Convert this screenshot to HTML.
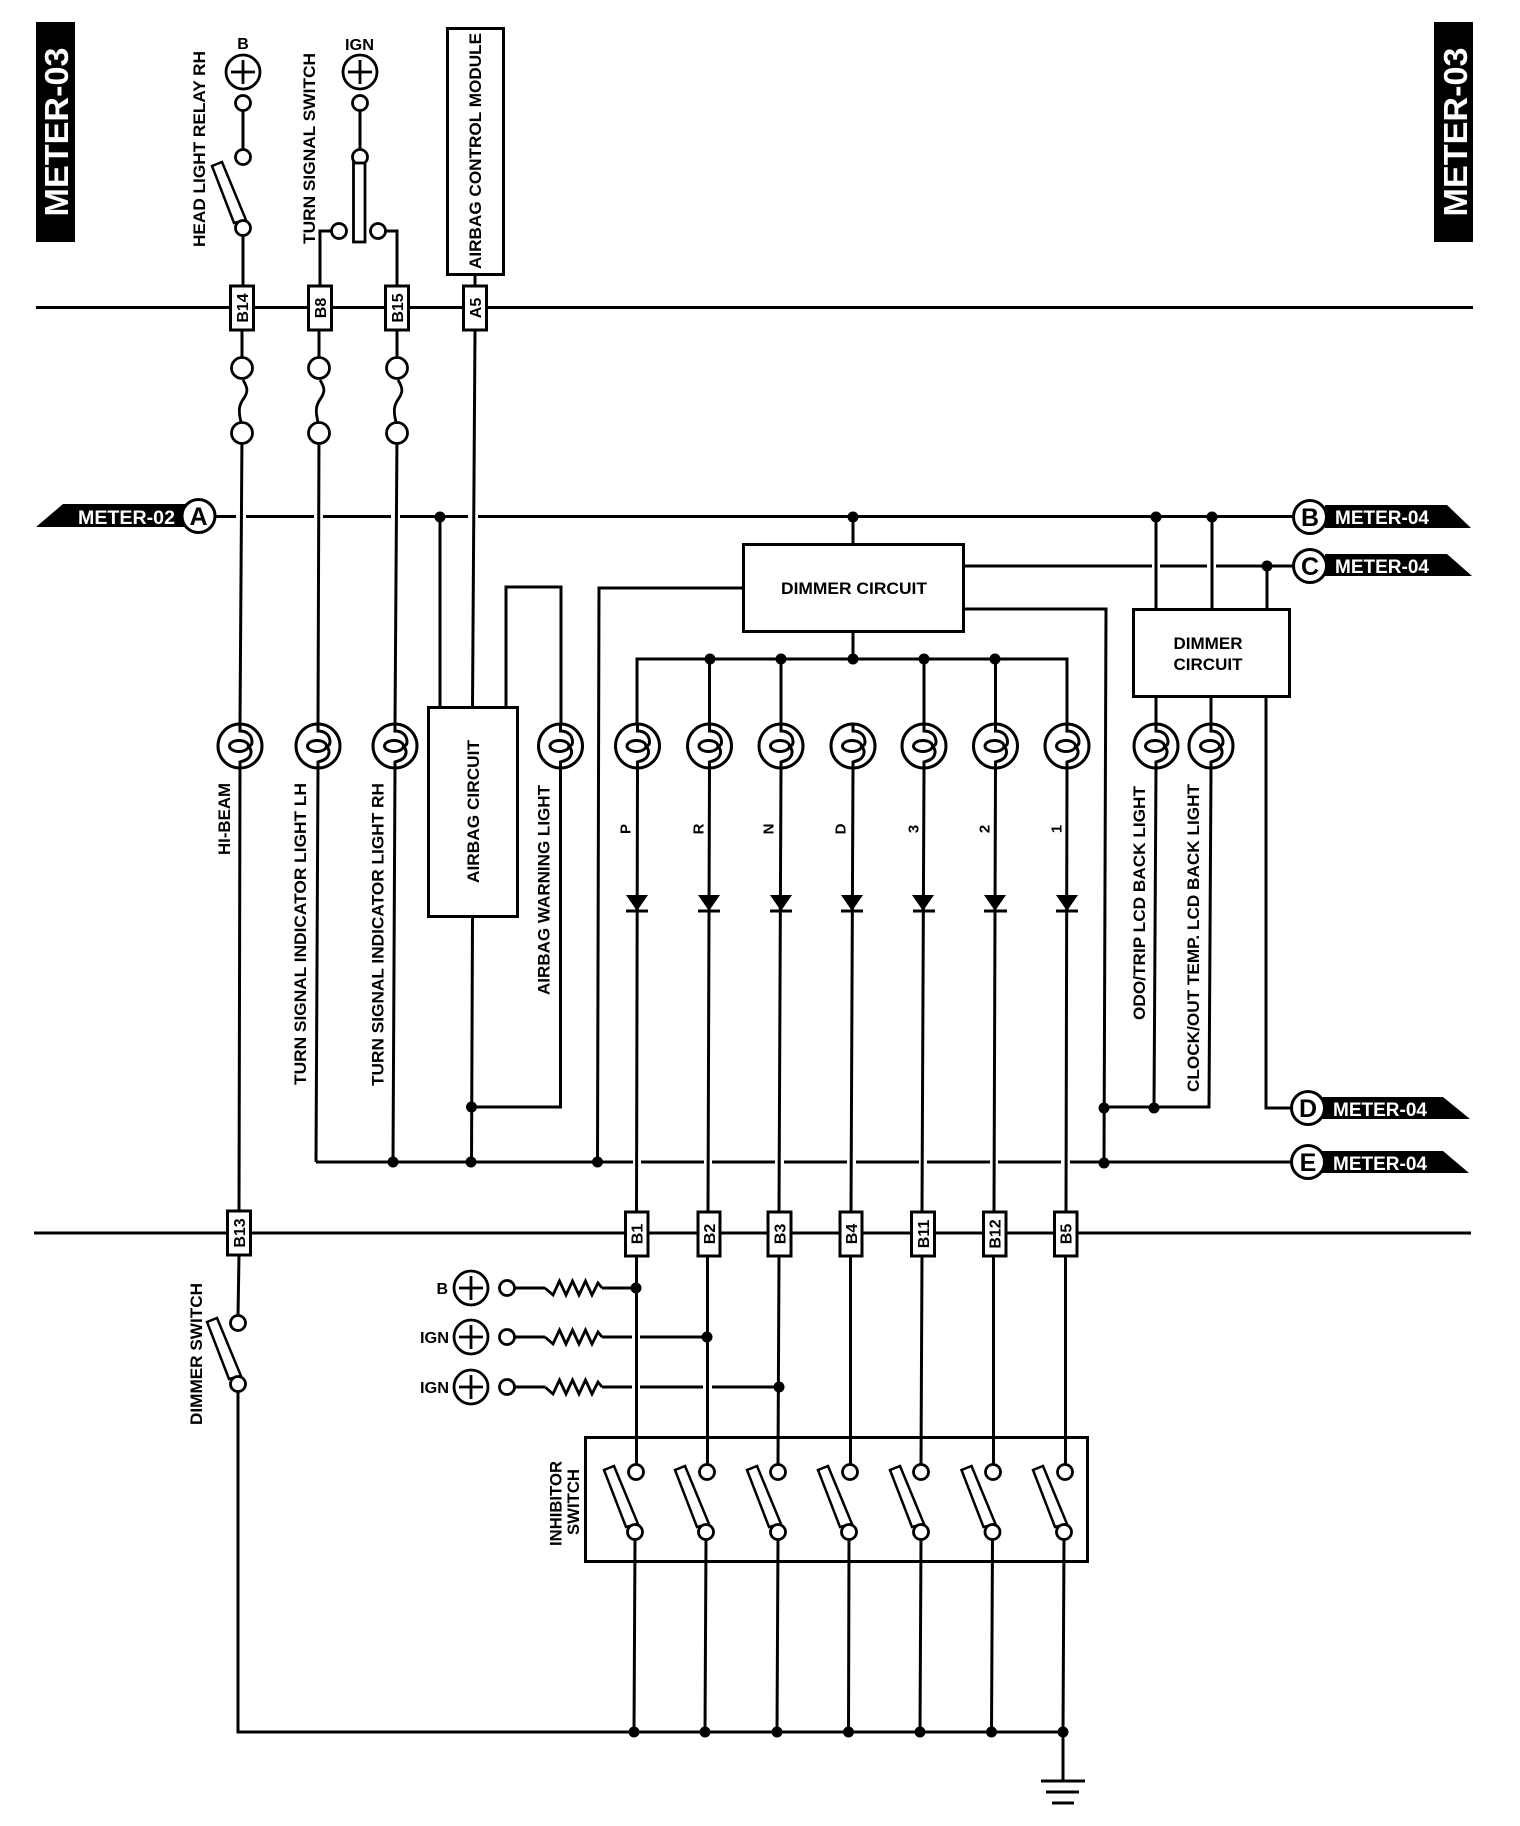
<!DOCTYPE html>
<html lang="en">
<head>
<meta charset="utf-8">
<title>METER-03</title>
<style>
html,body{margin:0;padding:0;background:#fff;}
svg{display:block;}
text{font-family:"Liberation Sans",sans-serif;fill:#000;}
.b{font-weight:bold;}
.w{fill:#fff;font-weight:bold;}
</style>
</head>
<body>
<svg xmlns="http://www.w3.org/2000/svg" width="1520" height="1826" viewBox="0 0 1520 1826">
<defs>
<g id="lamp">
<circle r="22" fill="#fff" stroke="#000" stroke-width="3"/>
<path d="M0,-22 V-15 C8,-15 12,-10 12,-4 C12,-1 10,0 9,0 C11,4 12,6 10,10 C8,14 3,15 0,16 V22" fill="none" stroke="#000" stroke-width="3"/>
<ellipse cx="-1" cy="0" rx="9.5" ry="5.5" fill="none" stroke="#000" stroke-width="3"/>
</g>
<circle id="t" r="7.5" fill="#fff" stroke="#000" stroke-width="2.8"/>
<g id="fuse" fill="none" stroke="#000" stroke-width="2.8">
<path d="M1,12 C6,20 6,24 2,30 C-3,37 -4,42 -1,54"/>
<circle r="10.5" cy="0" fill="#fff"/>
<circle r="10.5" cy="65" fill="#fff"/>
</g>
<g id="src" fill="#fff" stroke="#000" stroke-width="2.8">
<circle r="17"/>
<path d="M-12,0 H12 M0,-12 V12" fill="none"/>
</g>
<polygon id="arm" points="-31,-62 -21,-66 3,-8 -9,-5" fill="#fff" stroke="#000" stroke-width="2.5"/>
<polygon id="diode" points="-11,-16 11,-16 0,0" fill="#000"/>
<path id="res" d="M0,0 L8,7 L14.5,-7 L21,7 L27.5,-7 L34,7 L40.5,-7 L47,7 L53,-5 L57,0" fill="none" stroke="#000" stroke-width="2.8"/>
</defs>

<rect width="1520" height="1826" fill="#fff"/>

<!-- header bars -->
<rect x="36" y="22" width="39" height="220" fill="#000"/>
<rect x="1434" y="22" width="39" height="220" fill="#000"/>
<text class="w" font-size="33" textLength="169" lengthAdjust="spacingAndGlyphs" text-anchor="middle" transform="translate(56,132) rotate(-90)" y="12">METER-03</text>
<text class="w" font-size="33" textLength="169" lengthAdjust="spacingAndGlyphs" text-anchor="middle" transform="translate(1455,132) rotate(-90)" y="12">METER-03</text>

<g fill="none" stroke="#000" stroke-width="3">
<!-- buses -->
<path d="M36,307.5 H1473"/>
<path d="M34,1233 H1471"/>

<!-- top feeds -->
<path d="M243,103 V157"/>
<path d="M243,228 V285"/>
<path d="M360,103 V157"/>
<path d="M339,231 H320 V285"/>
<path d="M378,231 H397 V285"/>
<path d="M475,275 V285"/>

<!-- vertical wires top -->
<path d="M242,330 V368 M242,433 L240,724 M240,768 L239,1210"/>
<path d="M319,330 V368 M319,433 L318,724 M318,768 L316,1162"/>
<path d="M397,330 V368 M397,433 L395,724 M395,768 L393,1162"/>
<path d="M475,330 L472.5,707"/>
<path d="M472.5,917 L471.5,1162"/>

<!-- A/B line with gaps -->
<path d="M215,516.5 H236 M246,516.5 H314 M323,516.5 H391 M400,516.5 H468 M478,516.5 H1293"/>
<!-- C line -->
<path d="M964,566 H1152 M1160,566 H1207 M1216,566 H1293"/>
<!-- E line -->
<path d="M316,1162 H633 M641,1162 H704 M712,1162 H775 M784,1162 H847 M856,1162 H919 M927,1162 H990 M998,1162 H1061 M1070,1162 H1293"/>

<!-- airbag -->
<path d="M440,517 V707"/>
<path d="M506,707 V587 H561 V724 M560.5,768 V1107 H472"/>

<!-- dimmer 1 -->
<path d="M853,517 V544 M853,632 V659"/>
<path d="M743,588 H599 L597.5,1162"/>
<path d="M964,609 H1106 L1104,1162"/>
<path d="M637,724 V659 H1067 V724"/>
<path d="M709.5,659 V724 M781,659 V724 M924,659 V724 M995.5,659 V724"/>

<path d="M637.5,768 L636.5,1211 M709.5,768 L708,1211 M781,768 L779,1211 M853,768 L851,1211 M924,768 L922,1211 M995.5,768 L994,1211 M1067,768 L1066,1211"/>

<!-- dimmer 2 -->
<path d="M1156,517 V609 M1212,517 V609 M1267,566 V609"/>
<path d="M1156,697 V724 M1211,697 V724"/>
<path d="M1156,768 L1154,1108 M1211,768 L1209,1107 H1104"/>
<path d="M1266,697 V1108 H1293"/>

<!-- below bus 2 -->
<path d="M239,1255 L238,1316 M238,1392 V1732 H1063"/>
<path d="M636.5,1256 V1464 M707.5,1256 V1464 M779,1256 L778,1464 M850.5,1256 V1464 M922,1256 L921,1464 M993.5,1256 V1464 M1065.5,1256 V1464"/>
<path d="M635,1540 L634,1732 M706,1540 L705,1732 M778,1540 L777,1732 M849,1540 L848.5,1732 M921,1540 L920,1732 M992.5,1540 L991.5,1732 M1064,1540 L1063,1732"/>

<!-- B+/IGN feeds -->
<path d="M515,1288 H545 M602,1288 H636"/>
<path d="M515,1337 H545 M602,1337 H632 M640,1337 H707"/>
<path d="M515,1387 H545 M602,1387 H632 M640,1387 H703 M712,1387 H779"/>

<!-- ground -->
<path d="M1063,1732 V1781 M1041,1781 H1085 M1046,1792 H1079 M1052,1803 H1074"/>
</g>

<!-- boxes -->
<g fill="#fff" stroke="#000" stroke-width="3">
<rect x="447.5" y="28.5" width="56" height="246"/>
<rect x="428.5" y="707.5" width="89" height="209"/>
<rect x="743.5" y="544.5" width="220" height="87"/>
<rect x="1133.5" y="609.5" width="156" height="87"/>
<rect x="585.5" y="1437.5" width="502" height="124" fill="none"/>
<!-- connectors -->
<rect x="230.500" y="286" width="23" height="44"/>
<rect x="308.5" y="286" width="23" height="44"/>
<rect x="385.5" y="286" width="23" height="44"/>
<rect x="463.5" y="286" width="23" height="44"/>
<rect x="227.500" y="1211" width="23" height="44"/>
<rect x="625.500" y="1212" width="22.500" height="44"/>
<rect x="698" y="1212" width="22" height="44"/>
<rect x="768" y="1212" width="23" height="44"/>
<rect x="840" y="1212" width="22" height="44"/>
<rect x="911.500" y="1212" width="23" height="44"/>
<rect x="983.500" y="1212" width="22.500" height="44"/>
<rect x="1054.500" y="1212" width="22.500" height="44"/>
</g>

<!-- resistors -->
<use href="#res" x="545" y="1288"/>
<use href="#res" x="545" y="1337"/>
<use href="#res" x="545" y="1387"/>

<!-- top sources & switches -->
<use href="#src" x="243" y="72"/>
<use href="#src" x="360" y="72"/>
<use href="#t" x="243" y="103"/>
<use href="#t" x="243" y="157"/>
<use href="#arm" x="243" y="228"/>
<use href="#t" x="243" y="228"/>
<use href="#t" x="360" y="103"/>
<use href="#t" x="360" y="157"/>
<rect x="353.5" y="163" width="11.500" height="79" fill="#fff" stroke="#000" stroke-width="2.8"/>
<use href="#t" x="339" y="231"/>
<use href="#t" x="378" y="231"/>

<!-- fuses -->
<use href="#fuse" x="242" y="368"/>
<use href="#fuse" x="319" y="368"/>
<use href="#fuse" x="397" y="368"/>

<!-- lamps -->
<use href="#lamp" x="240" y="746"/>
<use href="#lamp" x="318" y="746"/>
<use href="#lamp" x="395" y="746"/>
<use href="#lamp" x="560.500" y="746"/>
<use href="#lamp" x="637.500" y="746"/>
<use href="#lamp" x="709.500" y="746"/>
<use href="#lamp" x="781" y="746"/>
<use href="#lamp" x="853" y="746"/>
<use href="#lamp" x="924" y="746"/>
<use href="#lamp" x="995.500" y="746"/>
<use href="#lamp" x="1067" y="746"/>
<use href="#lamp" x="1156" y="746"/>
<use href="#lamp" x="1211" y="746"/>

<!-- diodes -->
<g stroke="#000" stroke-width="3">
<path d="M626,911 H648 M698,911 H720 M770,911 H792 M841,911 H863 M913,911 H935 M984,911 H1007 M1056,911 H1078"/>
</g>
<use href="#diode" x="637" y="911"/>
<use href="#diode" x="709" y="911"/>
<use href="#diode" x="781" y="911"/>
<use href="#diode" x="852" y="911"/>
<use href="#diode" x="923" y="911"/>
<use href="#diode" x="995" y="911"/>
<use href="#diode" x="1067" y="911"/>

<!-- dimmer switch -->
<use href="#t" x="238" y="1323"/>
<use href="#arm" x="238" y="1384"/>
<use href="#t" x="238" y="1384"/>

<!-- sources bottom -->
<use href="#src" x="471" y="1288"/>
<use href="#src" x="471" y="1337"/>
<use href="#src" x="471" y="1387"/>
<use href="#t" x="507" y="1288"/>
<use href="#t" x="507" y="1337"/>
<use href="#t" x="507" y="1387"/>

<!-- inhibitor switches -->
<use href="#t" x="636" y="1472"/><use href="#arm" x="635" y="1532"/><use href="#t" x="635" y="1532"/>
<use href="#t" x="707" y="1472"/><use href="#arm" x="706" y="1532"/><use href="#t" x="706" y="1532"/>
<use href="#t" x="778" y="1472"/><use href="#arm" x="778" y="1532"/><use href="#t" x="778" y="1532"/>
<use href="#t" x="850" y="1472"/><use href="#arm" x="849" y="1532"/><use href="#t" x="849" y="1532"/>
<use href="#t" x="921" y="1472"/><use href="#arm" x="921" y="1532"/><use href="#t" x="921" y="1532"/>
<use href="#t" x="993" y="1472"/><use href="#arm" x="992.500" y="1532"/><use href="#t" x="992.500" y="1532"/>
<use href="#t" x="1065" y="1472"/><use href="#arm" x="1064" y="1532"/><use href="#t" x="1064" y="1532"/>

<!-- junction dots -->
<g fill="#000">
<circle cx="440" cy="517" r="5.500"/>
<circle cx="853" cy="517" r="5.500"/>
<circle cx="1156" cy="517" r="5.500"/>
<circle cx="1212" cy="517" r="5.500"/>
<circle cx="1267" cy="566" r="5.500"/>
<circle cx="710" cy="659" r="5.500"/>
<circle cx="781" cy="659" r="5.500"/>
<circle cx="853" cy="659" r="5.500"/>
<circle cx="924" cy="659" r="5.500"/>
<circle cx="995" cy="659" r="5.500"/>
<circle cx="471.500" cy="1107" r="5.500"/>
<circle cx="393" cy="1162" r="5.500"/>
<circle cx="471" cy="1162" r="5.500"/>
<circle cx="597.500" cy="1162" r="5.500"/>
<circle cx="1104" cy="1108" r="5.500"/>
<circle cx="1154" cy="1108" r="5.500"/>
<circle cx="1104" cy="1163" r="5.500"/>
<circle cx="636" cy="1288" r="5.500"/>
<circle cx="707" cy="1337" r="5.500"/>
<circle cx="779" cy="1387" r="5.500"/>
<circle cx="634" cy="1732" r="5.500"/>
<circle cx="705" cy="1732" r="5.500"/>
<circle cx="777" cy="1732" r="5.500"/>
<circle cx="848.500" cy="1732" r="5.500"/>
<circle cx="920" cy="1732" r="5.500"/>
<circle cx="991.500" cy="1732" r="5.500"/>
<circle cx="1063" cy="1732" r="5.500"/>
</g>

<!-- badges -->
<polygon points="36,527 63,504 185,504 185,527" fill="#000"/>
<polygon points="1325,505 1447,505 1471,528 1325,528" fill="#000"/>
<polygon points="1325,554 1447,554 1472,576 1325,576" fill="#000"/>
<polygon points="1322,1097 1443,1097 1470,1119 1322,1119" fill="#000"/>
<polygon points="1322,1151 1443,1151 1469,1173 1322,1173" fill="#000"/>

<g fill="#fff" stroke="#000" stroke-width="3">
<circle cx="198.500" cy="516" r="16.500"/>
<circle cx="1310" cy="517" r="16.500"/>
<circle cx="1310" cy="566" r="16.500"/>
<circle cx="1308" cy="1108" r="16.500"/>
<circle cx="1308" cy="1162" r="16.500"/>
</g>
<g class="b" font-size="25" font-weight="bold" text-anchor="middle">
<text x="198.500" y="525">A</text>
<text x="1310" y="526">B</text>
<text x="1310" y="575">C</text>
<text x="1308" y="1117">D</text>
<text x="1308" y="1171">E</text>
</g>
<g font-size="19">
<text class="w" x="78" y="524" textLength="97" lengthAdjust="spacingAndGlyphs">METER-02</text>
<text class="w" x="1335" y="524" textLength="94" lengthAdjust="spacingAndGlyphs">METER-04</text>
<text class="w" x="1335" y="573" textLength="94" lengthAdjust="spacingAndGlyphs">METER-04</text>
<text class="w" x="1333" y="1116" textLength="94" lengthAdjust="spacingAndGlyphs">METER-04</text>
<text class="w" x="1333" y="1170" textLength="94" lengthAdjust="spacingAndGlyphs">METER-04</text>
</g>

<!-- horizontal labels -->
<g font-size="16" text-anchor="middle" font-weight="bold">
<text x="243" y="49">B</text>
<text x="359.500" y="50" textLength="29" lengthAdjust="spacingAndGlyphs">IGN</text>
</g>
<g font-size="16" text-anchor="end" font-weight="bold">
<text x="448" y="1294">B</text>
<text x="449" y="1343" textLength="29" lengthAdjust="spacingAndGlyphs">IGN</text>
<text x="449" y="1393" textLength="29" lengthAdjust="spacingAndGlyphs">IGN</text>
</g>
<text class="b" font-size="17" text-anchor="middle" x="854" y="594" textLength="146" lengthAdjust="spacingAndGlyphs">DIMMER CIRCUIT</text>
<text class="b" font-size="17" text-anchor="middle" x="1208" y="649" textLength="69" lengthAdjust="spacingAndGlyphs">DIMMER</text>
<text class="b" font-size="17" text-anchor="middle" x="1208" y="670" textLength="69" lengthAdjust="spacingAndGlyphs">CIRCUIT</text>

<!-- rotated labels -->
<g font-size="17" font-weight="bold" text-anchor="middle">
<text y="6" textLength="196" lengthAdjust="spacingAndGlyphs" transform="translate(199,149) rotate(-90)">HEAD LIGHT RELAY RH</text>
<text y="6" textLength="191" lengthAdjust="spacingAndGlyphs" transform="translate(309,148.500) rotate(-90)">TURN SIGNAL SWITCH</text>
<text y="6" textLength="236" lengthAdjust="spacingAndGlyphs" transform="translate(475,151) rotate(-90)">AIRBAG CONTROL MODULE</text>
<text y="6" textLength="72" lengthAdjust="spacingAndGlyphs" transform="translate(224,819) rotate(-90)">HI-BEAM</text>
<text y="6" textLength="302" lengthAdjust="spacingAndGlyphs" transform="translate(300,934) rotate(-90)">TURN SIGNAL INDICATOR LIGHT LH</text>
<text y="6" textLength="303" lengthAdjust="spacingAndGlyphs" transform="translate(377.500,934.500) rotate(-90)">TURN SIGNAL INDICATOR LIGHT RH</text>
<text y="6" textLength="143" lengthAdjust="spacingAndGlyphs" transform="translate(473,811.500) rotate(-90)">AIRBAG CIRCUIT</text>
<text y="6" textLength="210" lengthAdjust="spacingAndGlyphs" transform="translate(543.500,890) rotate(-90)">AIRBAG WARNING LIGHT</text>
<text y="6" textLength="234" lengthAdjust="spacingAndGlyphs" transform="translate(1139,903) rotate(-90)">ODO/TRIP LCD BACK LIGHT</text>
<text y="6" textLength="308" lengthAdjust="spacingAndGlyphs" transform="translate(1193,938) rotate(-90)">CLOCK/OUT TEMP. LCD BACK LIGHT</text>
<text y="6" textLength="142" lengthAdjust="spacingAndGlyphs" transform="translate(196,1354) rotate(-90)">DIMMER SWITCH</text>
<text y="6" textLength="85" lengthAdjust="spacingAndGlyphs" transform="translate(555.500,1503.500) rotate(-90)">INHIBITOR</text>
<text y="6" textLength="66" lengthAdjust="spacingAndGlyphs" transform="translate(573,1502) rotate(-90)">SWITCH</text>
</g>
<g font-size="15" font-weight="bold" text-anchor="middle">
<text y="5.500" transform="translate(625,829) rotate(-90)">P</text>
<text y="5.500" transform="translate(698,829) rotate(-90)">R</text>
<text y="5.500" transform="translate(768,829) rotate(-90)">N</text>
<text y="5.500" transform="translate(840,829) rotate(-90)">D</text>
<text y="5.500" transform="translate(913,829) rotate(-90)">3</text>
<text y="5.500" transform="translate(984,829) rotate(-90)">2</text>
<text y="5.500" transform="translate(1056,829) rotate(-90)">1</text>
</g>

<!-- connector labels -->
<g font-size="16" font-weight="bold" text-anchor="middle">
<text y="6" transform="translate(242,308) rotate(-90)">B14</text>
<text y="6" transform="translate(320,308) rotate(-90)">B8</text>
<text y="6" transform="translate(397,308) rotate(-90)">B15</text>
<text y="6" transform="translate(475,308) rotate(-90)">A5</text>
<text y="6" transform="translate(239,1233) rotate(-90)">B13</text>
<text y="6" transform="translate(636.500,1234) rotate(-90)">B1</text>
<text y="6" transform="translate(709,1234) rotate(-90)">B2</text>
<text y="6" transform="translate(779.500,1234) rotate(-90)">B3</text>
<text y="6" transform="translate(851,1234) rotate(-90)">B4</text>
<text y="6" transform="translate(923,1234) rotate(-90)">B11</text>
<text y="6" transform="translate(994.500,1234) rotate(-90)">B12</text>
<text y="6" transform="translate(1065.500,1234) rotate(-90)">B5</text>
</g>
</svg>
</body>
</html>
